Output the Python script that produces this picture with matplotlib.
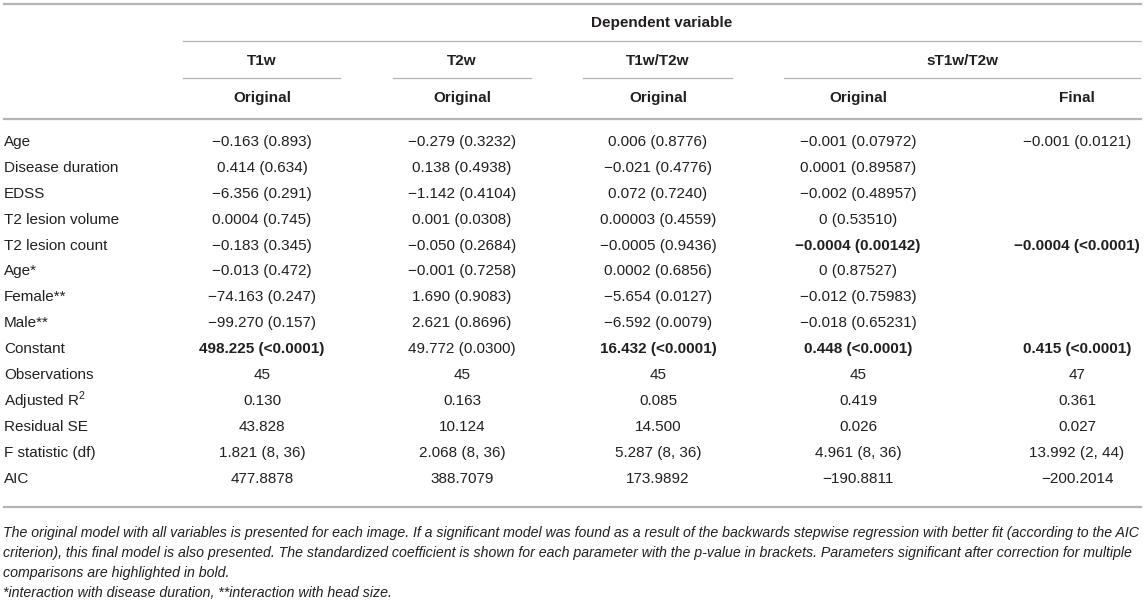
import matplotlib
matplotlib.use('Agg')
import matplotlib.pyplot as plt

plt.rcParams['font.family'] = ['Liberation Sans', 'DejaVu Sans']
plt.rcParams['mathtext.fontset'] = 'custom'
plt.rcParams['mathtext.rm'] = 'Liberation Sans'

## Table content
row_labels = ['Age', 'Disease duration', 'EDSS', 'T2 lesion volume', 'T2 lesion count',
              'Age*', 'Female**', 'Male**', 'Constant', 'Observations',
              'Adjusted R$^2$', 'Residual SE', 'F statistic (df)', 'AIC']
groups = ['T1w', 'T2w', 'T1w/T2w', 'sT1w/T2w']
sub_heads = ['Original', 'Original', 'Original', 'Original', 'Final']

t1w = ['−0.163 (0.893)', '0.414 (0.634)', '−6.356 (0.291)', '0.0004 (0.745)',
       '−0.183 (0.345)', '−0.013 (0.472)', '−74.163 (0.247)', '−99.270 (0.157)',
       '498.225 (<0.0001)', '45', '0.130', '43.828', '1.821 (8, 36)', '477.8878']
t2w = ['−0.279 (0.3232)', '0.138 (0.4938)', '−1.142 (0.4104)', '0.001 (0.0308)',
       '−0.050 (0.2684)', '−0.001 (0.7258)', '1.690 (0.9083)', '2.621 (0.8696)',
       '49.772 (0.0300)', '45', '0.163', '10.124', '2.068 (8, 36)', '388.7079']
ratio = ['0.006 (0.8776)', '−0.021 (0.4776)', '0.072 (0.7240)', '0.00003 (0.4559)',
         '−0.0005 (0.9436)', '0.0002 (0.6856)', '−5.654 (0.0127)', '−6.592 (0.0079)',
         '16.432 (<0.0001)', '45', '0.085', '14.500', '5.287 (8, 36)', '173.9892']
s_orig = ['−0.001 (0.07972)', '0.0001 (0.89587)', '−0.002 (0.48957)', '0 (0.53510)',
          '−0.0004 (0.00142)', '0 (0.87527)', '−0.012 (0.75983)', '−0.018 (0.65231)',
          '0.448 (<0.0001)', '45', '0.419', '0.026', '4.961 (8, 36)', '−190.8811']
s_final = ['−0.001 (0.0121)', '', '', '', '−0.0004 (<0.0001)', '', '', '',
           '0.415 (<0.0001)', '47', '0.361', '0.027', '13.992 (2, 44)', '−200.2014']
columns = [t1w, t2w, ratio, s_orig, s_final]
bold_cells = [(0, 8), (2, 8), (3, 4), (3, 8), (4, 4), (4, 8)]  # (column, row)

notes = ['The original model with all variables is presented for each image. If a significant model was found as a result of the backwards stepwise regression with better fit (according to the AIC',
         'criterion), this final model is also presented. The standardized coefficient is shown for each parameter with the p-value in brackets. Parameters significant after correction for multiple',
         'comparisons are highlighted in bold.',
         '*interaction with disease duration, **interaction with head size.']

## Layout (pixel coordinates)
W, H = 1145, 602
col_x = [262, 462, 658, 858, 1077]
group_spans = [(183, 340), (393, 531), (583, 732), (784, 1140)]
row_y0, row_dy = 142, 25.9
txt = '#231f20'
rule = '#b4b4b4'
fs = 11

fig = plt.figure(figsize=(W / 100, H / 100), dpi=100)
ax = fig.add_axes([0, 0, 1, 1])
ax.set_xlim(0, W)
ax.set_ylim(H, 0)
ax.axis('off')

# rules
ax.plot([4, 1141], [4, 4], color=rule, lw=1.6)
ax.plot([183, 1141], [41, 41], color=rule, lw=0.9)
for a, b in group_spans:
    ax.plot([a, b], [78, 78], color=rule, lw=0.9)
ax.plot([4, 1141], [119, 119], color=rule, lw=1.6)
ax.plot([4, 1141], [507, 507], color=rule, lw=1.6)

# header
ax.text((183 + 1140) / 2, 23, 'Dependent variable', ha='center', va='center',
        fontsize=fs, fontweight='bold', color=txt)
for (a, b), g in zip(group_spans, groups):
    ax.text((a + b) / 2, 61, g, ha='center', va='center', fontsize=fs,
            fontweight='bold', color=txt)
for x, s in zip(col_x, sub_heads):
    ax.text(x, 98, s, ha='center', va='center', fontsize=fs, fontweight='bold', color=txt)

# body
for i, lab in enumerate(row_labels):
    y = row_y0 + i * row_dy
    ax.text(4, y, lab, ha='left', va='center', fontsize=fs, color=txt)
    for j, col in enumerate(columns):
        w = 'bold' if (j, i) in bold_cells else 'normal'
        ax.text(col_x[j], y, col[i], ha='center', va='center', fontsize=fs,
                fontweight=w, color=txt)

# footnotes, sized so the first line spans the table width
fig.canvas.draw()
r = fig.canvas.get_renderer()
probe = ax.text(0, 0, notes[0], fontsize=10, style='italic')
wpx = probe.get_window_extent(renderer=r).width
probe.remove()
nfs = 10 * 1136 / wpx
for k, line in enumerate(notes):
    ax.text(3, 533 + k * 20, line, ha='left', va='center', fontsize=nfs,
            style='italic', color=txt)

fig.savefig('out.png', dpi=100)
